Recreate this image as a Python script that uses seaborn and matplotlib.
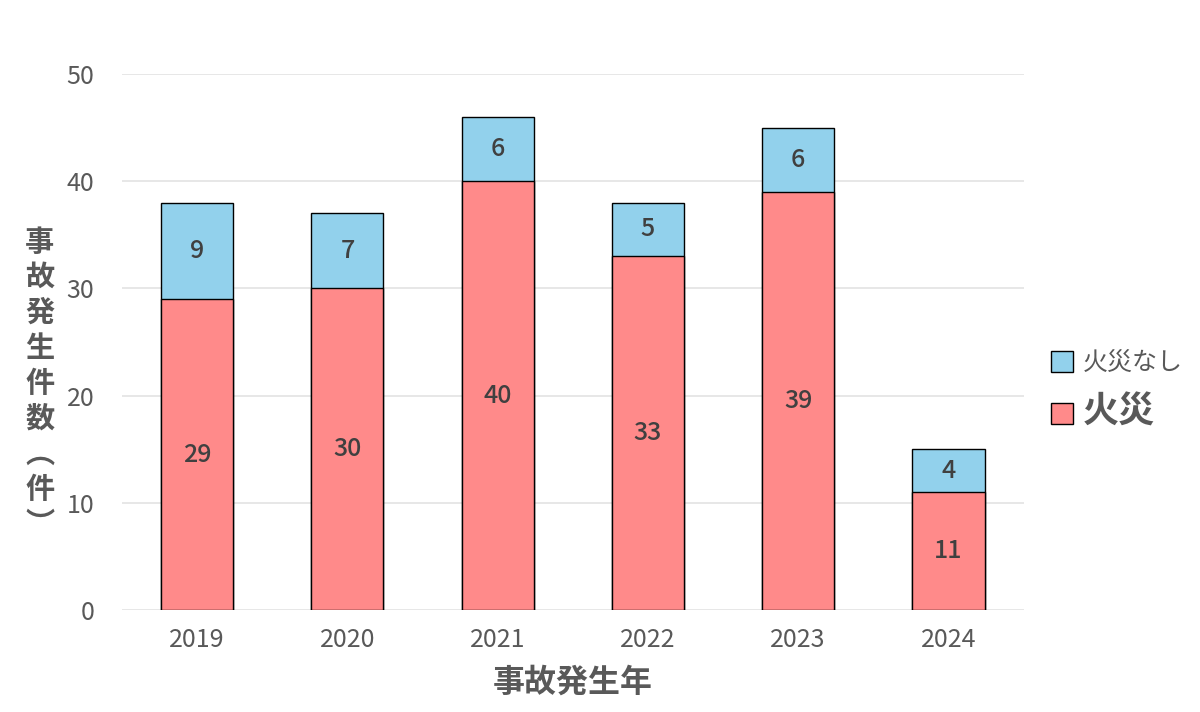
import matplotlib
matplotlib.use("Agg")
import matplotlib.pyplot as plt
import seaborn as sns
import pandas as pd

# data
years = ["2019", "2020", "2021", "2022", "2023", "2024"]
fire = [29, 30, 40, 33, 39, 11]
no_fire = [9, 7, 6, 5, 6, 4]

RED = "#FF8A8A"
BLUE = "#92D1EC"
GRAY = "#595959"

sns.set_theme(style="white")
plt.rcParams['font.family'] = ['Noto Sans CJK JP', 'DejaVu Sans']

df = pd.DataFrame({"year": years, "fire": fire, "no_fire": no_fire})
df["total"] = df["fire"] + df["no_fire"]

fig = plt.figure(figsize=(12, 7.12), dpi=100)
ax = fig.add_axes([0.1017, 0.1433, 0.7513, 0.7527])

# stacked: draw totals first (blue), then the fire part (red) on top
sns.barplot(data=df, x="year", y="total", color=BLUE, width=0.48,
            edgecolor="black", linewidth=1, saturation=1, ax=ax, label="火災なし")
sns.barplot(data=df, x="year", y="fire", color=RED, width=0.48,
            edgecolor="black", linewidth=1, saturation=1, ax=ax, label="火災")

for i in range(len(years)):
    ax.text(i, fire[i] / 2, str(fire[i]), ha="center", va="center",
            fontsize=18, color="#404040", fontweight="medium")
    ax.text(i, fire[i] + no_fire[i] / 2, str(no_fire[i]), ha="center", va="center",
            fontsize=18, color="#404040", fontweight="medium")

ax.set_ylim(0, 50)
ax.set_yticks([0, 10, 20, 30, 40, 50])
ax.yaxis.grid(True, color="#E3E3E3", linewidth=1.2)
ax.set_axisbelow(True)
for s in ax.spines.values():
    s.set_visible(False)
ax.tick_params(axis="both", colors=GRAY, labelsize=18, length=0)
ax.tick_params(axis="x", pad=12)
ax.tick_params(axis="y", pad=20)
ax.set_xlabel("事故発生年", fontsize=23, fontweight="bold", color=GRAY, labelpad=10)
ax.set_ylabel("")

fig.text(0.033, 0.462, "事\n故\n発\n生\n件\n数\n︵\n件\n︶", ha="center", va="center",
         fontsize=21, fontweight="bold", color=GRAY, linespacing=1.22)

handles, labels = ax.get_legend_handles_labels()
leg = ax.legend(handles, labels, loc="center left", bbox_to_anchor=(1.005, 0.41),
                frameon=False, handlelength=0.9, handleheight=0.9, handletextpad=0.4,
                labelspacing=0.7, fontsize=18)
texts = leg.get_texts()
texts[0].set_fontsize(18)
texts[0].set_color(GRAY)
texts[1].set_fontsize(26)
texts[1].set_fontweight("bold")
texts[1].set_color(GRAY)

fig.savefig("out.png", dpi=100)
